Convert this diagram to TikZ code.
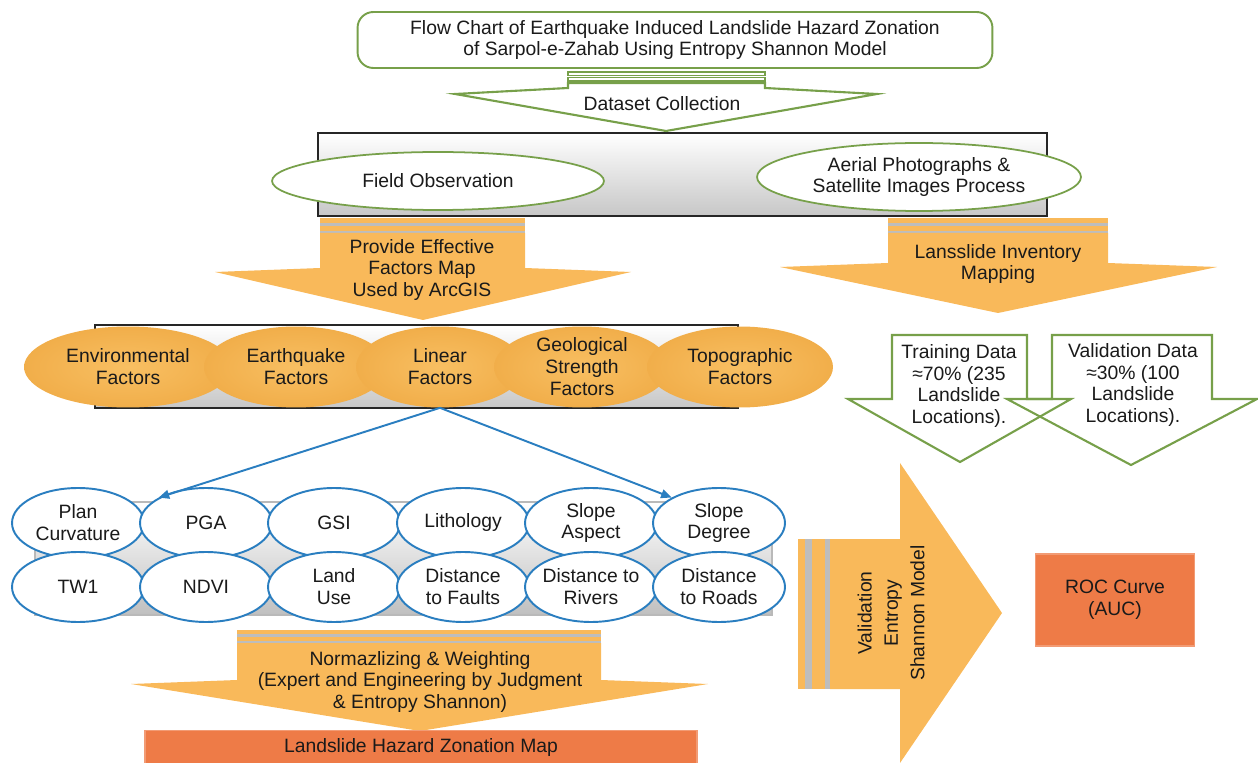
\documentclass[tikz,border=0pt]{standalone}
\usepackage{fontspec}
\setmainfont{Liberation Sans}
\usetikzlibrary{shapes.geometric,arrows.meta}
\definecolor{grn}{HTML}{77A04A}
\definecolor{orA}{HTML}{F9B95A}
\definecolor{orE}{HTML}{F1AE4A}
\definecolor{orL}{HTML}{F8BF62}
\definecolor{strp}{HTML}{BDBDBD}
\definecolor{blu}{HTML}{2A7EC0}
\definecolor{redc}{HTML}{EE7B47}
\definecolor{redl}{HTML}{F29B74}
\definecolor{txt}{HTML}{1A1A1A}

\begin{document}
\begin{tikzpicture}[x=0.02cm, y=-0.02cm,
    every node/.style={font=\fontsize{11}{12.5}\selectfont, align=center, text=txt},
    titlebox/.style={draw=grn, line width=1.1pt, rounded corners=9pt, fill=white,
      minimum width=12.7cm, minimum height=1.12cm},
    greenell/.style={ellipse, draw=grn, line width=1pt, fill=white, inner sep=0pt},
    factor/.style={ellipse, inner sep=0pt, minimum height=1.62cm, inner color=orL, outer color=orE},
    sub/.style={ellipse, draw=blu, line width=1.1pt, fill=white, inner sep=-2pt,
      minimum width=2.64cm, minimum height=1.4cm},
    greybox/.style={draw=black!85, line width=0.9pt, top color=white, bottom color=black!22},
    result/.style={fill=redc, draw=redl, line width=0.8pt},
    hollow/.style={draw=grn, line width=1.2pt},
    link/.style={blu, line width=1.1pt, -{Triangle[length=6pt,width=5pt]}}]
  \useasboundingbox (0,0) rectangle (1258,763);

  \node[titlebox] (title) at (675,40) {Flow Chart of Earthquake Induced Landslide Hazard Zonation\\of Sarpol-e-Zahab Using Entropy Shannon Model};

  \draw[greybox] (318,133) rectangle (1047,216);
  \node[greenell, minimum width=6.64cm, minimum height=1.16cm] (field) at (438,181) {Field Observation};
  \node[greenell, minimum width=6.48cm, minimum height=1.36cm] (aerial) at (919,177) {Aerial Photographs \&\\Satellite Images Process};

  \draw[hollow, line width=0.9pt, fill=white] (568,72) rectangle (765,75.5);
  \draw[hollow, line width=0.9pt, fill=white] (568,77.5) rectangle (765,81);
  \draw[hollow, fill=white] (568,83) -- (765,83) -- (765,88) -- (877,94) -- (666,131)
    -- (455,94) -- (568,88) -- cycle;
  \node (dataset) at (662,104) {Dataset Collection};

  \fill[orA] (320,218) rectangle (525,223);
  \fill[strp] (320,223) rectangle (525,226);
  \fill[orA] (320,226) rectangle (525,231);
  \fill[strp] (320,231) rectangle (525,233);
  \fill[orA] (320,233) -- (525,233) -- (525,268) -- (631,272) -- (423,320) -- (215,272)
    -- (320,268) -- cycle;
  \node (provide) at (422,270) {Provide Effective\\Factors Map\\Used by ArcGIS};

  \fill[orA] (888,218) rectangle (1108,223);
  \fill[strp] (888,223) rectangle (1108,226);
  \fill[orA] (888,226) rectangle (1108,231);
  \fill[strp] (888,231) rectangle (1108,233);
  \fill[orA] (888,233) -- (1108,233) -- (1108,263) -- (1217,267) -- (998,313) -- (780,267)
    -- (888,263) -- cycle;
  \node (inventory) at (998,264) {Lansslide Inventory\\Mapping};

  \draw[greybox] (95,325) rectangle (738,408);
  \node[factor, minimum width=4.16cm] (env) at (128,367) {Environmental\\Factors};
  \node[factor, minimum width=3.68cm] (eq) at (296,367) {Earthquake\\Factors};
  \node[factor, minimum width=3.36cm] (lin) at (440,367) {Linear\\Factors};
  \node[factor, minimum width=3.52cm, inner sep=-2pt] (geo) at (582,367) {Geological\\Strength\\Factors};
  \node[factor, minimum width=3.72cm] (topo) at (740,367) {Topographic\\Factors};

  \draw[gray!55, line width=0.6pt, top color=white, bottom color=black!25] (35,502) rectangle (772,615);
  \node[sub] (pc) at (78,523) {Plan\\Curvature};
  \node[sub] (pga) at (206,523) {PGA};
  \node[sub] (gsi) at (334,523) {GSI};
  \node[sub] (lith) at (463,523) {Lithology};
  \node[sub] (sasp) at (591,523) {Slope\\Aspect};
  \node[sub] (sdeg) at (719,523) {Slope\\Degree};
  \node[sub] (twi) at (78,587) {TW1};
  \node[sub] (ndvi) at (206,587) {NDVI};
  \node[sub] (lu) at (334,587) {Land\\Use};
  \node[sub] (dfault) at (463,587) {Distance\\to Faults};
  \node[sub] (driver) at (591,587) {Distance to\\Rivers};
  \node[sub] (droad) at (719,587) {Distance\\to Roads};

  \draw[link] (lin.south) -- (pga.north west);
  \draw[link] (lin.south) -- (sdeg.north west);

  \fill[orA] (237,630) rectangle (601,634);
  \fill[strp] (237,634) rectangle (601,637);
  \fill[orA] (237,637) rectangle (601,641);
  \fill[strp] (237,641) rectangle (601,643);
  \fill[orA] (237,643) -- (601,643) -- (601,680) -- (708,684) -- (420,731) -- (131,684)
    -- (237,680) -- cycle;
  \node (weight) at (420,682) {Normazlizing \& Weighting\\(Expert and Engineering by Judgment\\\& Entropy Shannon)};
  \node[result, minimum width=11.04cm, minimum height=0.7cm] (hazard) at (421,748) {Landslide Hazard Zonation Map};

  \draw[hollow] (892,335) -- (1027,335) -- (1027,399) -- (1071,399) -- (960,462) -- (848,399)
    -- (892,399) -- cycle;
  \draw[hollow] (1052,335) -- (1212,335) -- (1212,399) -- (1257,399) -- (1131,465) -- (1007,399)
    -- (1052,399) -- cycle;
  \node (train) at (959,386) {Training Data\\≈70\% (235\\Landslide\\Locations).};
  \node (valid) at (1133,385) {Validation Data\\≈30\% (100\\Landslide\\Locations).};

  \fill[orA] (798,539) rectangle (805,689);
  \fill[strp] (805,539) rectangle (812,689);
  \fill[orA] (812,539) rectangle (825,689);
  \fill[strp] (825,539) rectangle (830,689);
  \fill[orA] (830,539) -- (900,539) -- (900,463) -- (1002,613) -- (900,763) -- (900,689)
    -- (830,689) -- cycle;
  \node[rotate=90, font=\fontsize{11}{15}\selectfont] (shannon) at (891,613) {Validation\\Entropy\\Shannon Model};

  \node[result, minimum width=3.18cm, minimum height=1.84cm] (roc) at (1115,600) {ROC Curve\\(AUC)};
\end{tikzpicture}
\end{document}
